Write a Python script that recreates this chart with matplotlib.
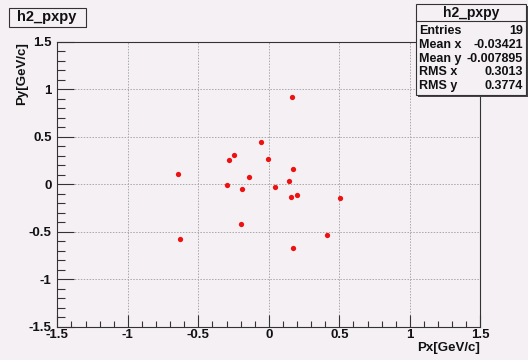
import matplotlib
matplotlib.use('Agg')
import matplotlib.pyplot as plt
from matplotlib.patches import Rectangle
from matplotlib.ticker import MultipleLocator

BG = '#f4f0f4'
INK = '#111111'
GRID = '#a8a8a8'
DOT = '#ee1111'

# h2_pxpy entries (Px, Py in GeV/c)
px = [0.164, -0.054, -0.249, -0.280, -0.009, 0.174, -0.641, -0.140, 0.140, -0.299,
      0.041, -0.187, 0.157, 0.197, 0.506, -0.199, -0.627, 0.416, 0.171]
py = [0.919, 0.447, 0.309, 0.253, 0.264, 0.158, 0.113, 0.077, 0.035, -0.004,
      -0.032, -0.053, -0.134, -0.113, -0.141, -0.415, -0.574, -0.535, -0.672]

hist_name = 'h2_pxpy'
stat_labels = ['Entries', 'Mean x', 'Mean y', 'RMS x', 'RMS y']
stat_values = ['19', '-0.03421', '-0.007895', '0.3013', '0.3774']

W, H = 528, 360
FONT = 'Liberation Sans'


def fx(x):
    return x / W


def fy(y):
    return 1 - y / H


fig = plt.figure(figsize=(W / 100, H / 100), dpi=100, facecolor=BG)
ax = fig.add_axes([fx(57.3), fy(326.7), (480.3 - 57.3) / W, (326.7 - 42.0) / H])
ax.set_facecolor(BG)

ax.plot(px, py, 'o', color=DOT, markersize=3.8, markeredgewidth=0, zorder=3)

ax.set_xlim(-1.5, 1.5)
ax.set_ylim(-1.5, 1.5)
for a in (ax.xaxis, ax.yaxis):
    a.set_major_locator(MultipleLocator(0.5))
    a.set_minor_locator(MultipleLocator(0.1))
ax.grid(True, which='major', color=GRID, linestyle=(0, (1.5, 1.5)), linewidth=0.7)
ax.tick_params(which='both', direction='in', top=False, right=False,
               color='#333333', width=0.8)
ax.tick_params(axis='y', which='major', length=12, pad=4)
ax.tick_params(axis='y', which='minor', length=6)
ax.tick_params(axis='x', which='major', length=8.5, pad=1.5)
ax.tick_params(axis='x', which='minor', length=4.3)
for s in ax.spines.values():
    s.set_color('#333333')
    s.set_linewidth(0.8)

ticks = [-1.5, -1, -0.5, 0, 0.5, 1, 1.5]
tick_text = ['-1.5', '-1', '-0.5', '0', '0.5', '1', '1.5']
ax.set_xticks(ticks)
ax.set_xticklabels(tick_text)
ax.set_yticks(ticks)
ax.set_yticklabels(tick_text)
for lab in ax.get_xticklabels() + ax.get_yticklabels():
    lab.set_fontfamily(FONT)
    lab.set_fontweight('bold')
    lab.set_fontsize(9.5)
    lab.set_color(INK)

fig.text(fx(480), fy(348), 'Px[GeV/c]', ha='right', va='center',
         fontsize=9.5, fontweight='bold', family=FONT, color=INK)
fig.text(fx(22), fy(42), 'Py[GeV/c]', ha='center', va='top', rotation=90,
         fontsize=9.5, fontweight='bold', family=FONT, color=INK)


def box(x0, y0, x1, y1):
    # ROOT-style pave with a thin drop shadow
    fig.patches.append(Rectangle((fx(x0 + 1.5), fy(y1 + 1.5)), fx(x1 - x0), (y1 - y0) / H,
                                 transform=fig.transFigure, facecolor='#444444',
                                 edgecolor='none', zorder=1))
    fig.patches.append(Rectangle((fx(x0), fy(y1)), fx(x1 - x0), (y1 - y0) / H,
                                 transform=fig.transFigure, facecolor=BG,
                                 edgecolor='#333333', linewidth=0.8, zorder=2))


# title pave
box(9, 8.5, 85.5, 26.5)
fig.text(fx(47), fy(17.5), hist_name, ha='center', va='center', fontsize=10.5,
         fontweight='bold', family=FONT, color=INK, zorder=3)

# stats pave
box(416, 4, 526, 95)
fig.lines.append(plt.Line2D([fx(416), fx(526)], [fy(21), fy(21)],
                            transform=fig.transFigure, color='#333333',
                            linewidth=0.8, zorder=3))
fig.text(fx(471), fy(12.5), hist_name, ha='center', va='center', fontsize=10,
         fontweight='bold', family=FONT, color=INK, zorder=3)
for i, (lab, val) in enumerate(zip(stat_labels, stat_values)):
    yc = 31.5 + i * 13.6
    fig.text(fx(419), fy(yc), lab, ha='left', va='center', fontsize=9,
             fontweight='bold', family=FONT, color=INK, zorder=3)
    fig.text(fx(523), fy(yc), val, ha='right', va='center', fontsize=9,
             fontweight='bold', family=FONT, color=INK, zorder=3)

fig.savefig('out.png', dpi=100, facecolor=BG)
